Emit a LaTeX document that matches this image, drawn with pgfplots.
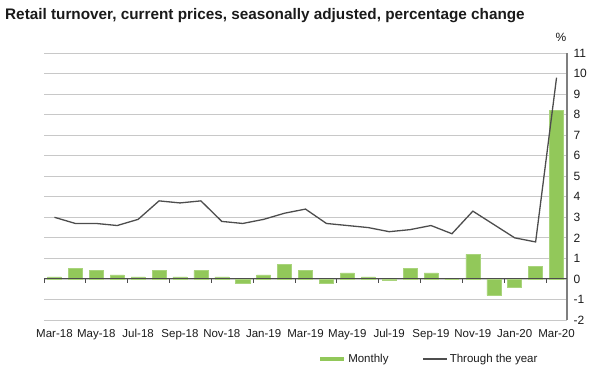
\documentclass[border=0pt]{standalone}
\usepackage{pgfplots}
\pgfplotsset{compat=1.18}
\usepackage{fontspec}
\setmainfont{Liberation Sans}
\definecolor{barg}{HTML}{92C85A}
\definecolor{baredge}{HTML}{A9D47C}
\definecolor{lineg}{HTML}{4D4D4D}
\definecolor{gridc}{HTML}{C8C8C8}
\definecolor{axc}{HTML}{7F7F7F}
\definecolor{txt}{HTML}{1A1A1A}
\pgfplotstableread{
idx monthly year
0 0.1 3.0
1 0.5 2.7
2 0.4 2.7
3 0.2 2.6
4 0.1 2.9
5 0.4 3.8
6 0.1 3.7
7 0.4 3.8
8 0.1 2.8
9 -0.2 2.7
10 0.2 2.9
11 0.7 3.2
12 0.4 3.4
13 -0.2 2.7
14 0.3 2.6
15 0.1 2.5
16 -0.05 2.3
17 0.5 2.4
18 0.3 2.6
19 0.0 2.2
20 1.2 3.3
21 -0.8 2.65
22 -0.4 2.0
23 0.6 1.8
24 8.2 9.8
}\datatable
\begin{document}
\begin{tikzpicture}[x=1pt,y=1pt]
\useasboundingbox (0,0) rectangle (602,375);
\node[anchor=base west, inner sep=0, font=\fontsize{15.3}{18}\selectfont\bfseries, text=txt] at (5,355) {Retail turnover, current prices, seasonally adjusted, percentage change};
\node[anchor=base, inner sep=0, font=\fontsize{12}{14}\selectfont, text=txt] at (561,333) {\%};
\begin{axis}[
  at={(44pt,55pt)}, anchor=south west,
  scale only axis, width=523pt, height=267pt,
  xmin=-0.5, xmax=24.5, ymin=-2, ymax=11,
  axis x line*=bottom,
  x axis line style={draw=none},
  axis y line*=right,
  y axis line style={axc, line width=1.6pt, -},
  xtick={0,2,...,24},
  xticklabels={Mar-18,May-18,Jul-18,Sep-18,Nov-18,Jan-19,Mar-19,May-19,Jul-19,Sep-19,Nov-19,Jan-20,Mar-20},
  xticklabel style={anchor=base, yshift=-17pt, font=\fontsize{11.5}{13}\selectfont, text=txt},
  ytick={-2,-1,...,11},
  yticklabels={-2,-1,0,1,2,3,4,5,6,7,8,9,10,11},
  major tick length=0pt,
  ymajorgrids, grid style={gridc, line width=0.8pt},
  yticklabel style={anchor=west, xshift=3pt, font=\fontsize{12}{14}\selectfont, text=txt},
  legend style={draw=none, fill=none, at={(0.524,-0.146)}, anchor=west, inner sep=0pt,
    legend columns=2, font=\fontsize{11.5}{13}\selectfont, text=txt,
    /tikz/every even column/.append style={column sep=32pt}},
  legend cell align=left,
  clip=false,
]
\addplot[ybar, bar width=0.67, fill=barg, draw=baredge, line width=0.5pt, bar shift=0pt,
  legend image code/.code={\draw[line width=4pt, barg] (0pt,0pt) -- (24pt,0pt);}]
  table[x=idx, y=monthly] {\datatable};
\addlegendentry{Monthly}
\addplot[lineg, line width=1.3pt, mark=none,
  legend image code/.code={\draw[line width=1.3pt, lineg] (0pt,0pt) -- (24pt,0pt);}]
  table[x=idx, y=year] {\datatable};
\addlegendentry{Through the year}
\draw[lineg, line width=1pt] (axis cs:-0.5,0) -- (axis cs:24.5,0);
\pgfplotsinvokeforeach{-0.5,1.5,3.5,5.5,7.5,9.5,11.5,13.5,15.5,17.5,19.5,21.5,23.5}{
  \draw[lineg, line width=1pt] (axis cs:#1,0) -- ++(0pt,-4pt);
}
\end{axis}
\end{tikzpicture}
\end{document}
